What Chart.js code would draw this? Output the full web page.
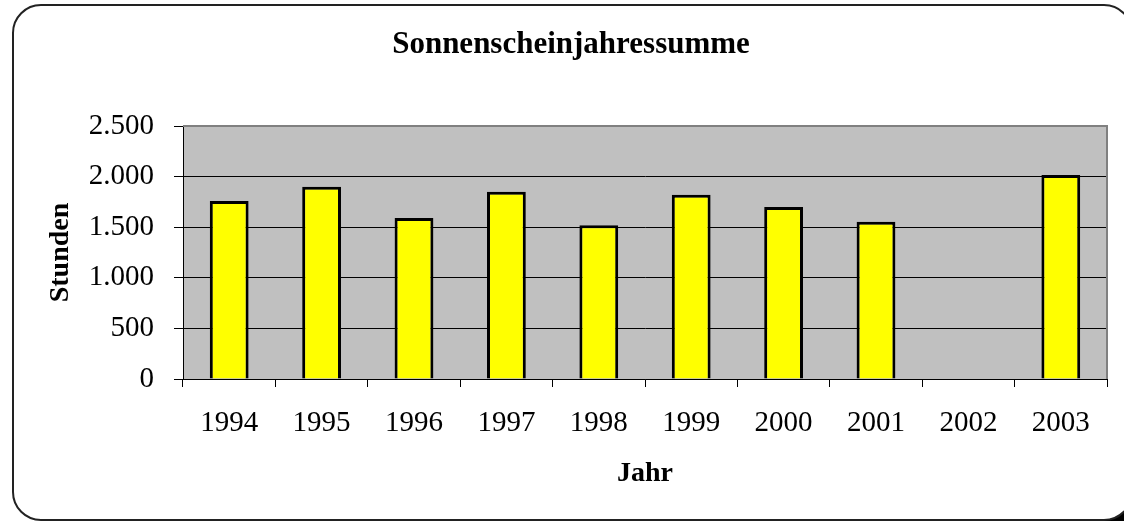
<!DOCTYPE html>
<html>
<head>
<meta charset="utf-8">
<script src="https://cdn.jsdelivr.net/npm/chart.js@4.4.0/dist/chart.umd.min.js"></script>
<style>
  html, body { margin: 0; padding: 0; background: #fff; }
  #wrap { width: 1124px; height: 521px; }
</style>
</head>
<body>
<div id="wrap"><canvas id="sunChart" width="1124" height="521"></canvas></div>
<script>
// Sonnenscheindauer pro Jahr (Stunden), 2002 ohne Wert
var years = ['1994', '1995', '1996', '1997', '1998', '1999', '2000', '2001', '2002', '2003'];
var hours = [1760, 1900, 1590, 1850, 1520, 1820, 1700, 1555, null, 2015];
var yTicks = [0, 500, 1000, 1500, 2000, 2500];
var chartTitle = 'Sonnenscheinjahressumme';

var serif = 'Liberation Serif, Times New Roman, serif';

function formatDE(v) {
    return String(v).replace(/\B(?=(\d{3})+(?!\d))/g, '.');
}

// rounded frame around the whole chart, grey plot background, title
var framePlugin = {
    id: 'frame',
    beforeDraw: function (chart) {
        var c = chart.ctx;
        var a = chart.chartArea;
        c.save();
        c.fillStyle = '#fff';
        c.fillRect(0, 0, chart.width, chart.height);
        // dark corner bottom right
        c.fillStyle = '#000';
        c.fillRect(1090, 490, 34, 31);
        c.beginPath();
        c.roundRect(13, 5, 1119, 515, 28);
        c.fillStyle = '#fff';
        c.fill();
        c.lineWidth = 2;
        c.strokeStyle = '#222';
        c.stroke();
        c.fillStyle = '#c0c0c0';
        c.fillRect(a.left, a.top, a.right - a.left, a.bottom - a.top);
        c.restore();
    },
    afterDraw: function (chart) {
        var c = chart.ctx;
        var a = chart.chartArea;
        c.save();
        c.strokeStyle = '#808080';
        c.lineWidth = 2;
        c.beginPath();
        c.moveTo(a.left, a.top);
        c.lineTo(a.right, a.top);
        c.lineTo(a.right, a.bottom);
        c.stroke();
        c.fillStyle = '#000';
        c.font = 'bold 31px ' + serif;
        c.textAlign = 'center';
        c.textBaseline = 'alphabetic';
        c.fillText(chartTitle, 571, 53);
        c.restore();
    }
};

var ctx = document.getElementById('sunChart').getContext('2d');

var sunChart = new Chart(ctx, {
    type: 'bar',
    data: {
        labels: years,
        datasets: [{
            label: 'Stunden',
            data: hours,
            backgroundColor: '#ffff00',
            borderColor: '#000',
            borderWidth: 3,
            barPercentage: 0.42,
            categoryPercentage: 1
        }]
    },
    plugins: [framePlugin],
    options: {
        responsive: false,
        animation: false,
        layout: { padding: { left: 0, right: 17, top: 126, bottom: 0 } },
        plugins: {
            legend: { display: false },
            tooltip: { enabled: false },
            title: { display: false }
        },
        scales: {
            x: {
                grid: {
                    offset: true,
                    drawOnChartArea: false,
                    drawTicks: true,
                    tickLength: 8,
                    color: '#000',
                    tickColor: '#000'
                },
                border: { color: '#000', width: 1 },
                ticks: {
                    color: '#000',
                    padding: 19,
                    maxRotation: 0,
                    font: { family: serif, size: 29 }
                },
                title: {
                    display: true,
                    text: 'Jahr',
                    color: '#000',
                    font: { family: serif, size: 28, weight: 'bold' },
                    padding: { top: 0, bottom: 30 }
                },
                afterFit: function (scale) { scale.height = 142; }
            },
            y: {
                min: 0,
                max: 2500,
                afterBuildTicks: function (scale) {
                    scale.ticks = yTicks.map(function (v) { return { value: v }; });
                },
                grid: {
                    color: function (c) { return c.tick && c.tick.value === 2500 ? '#808080' : '#000'; },
                    tickColor: '#000',
                    lineWidth: 1,
                    tickLength: 9
                },
                border: { color: '#000', width: 1 },
                ticks: {
                    color: '#000',
                    padding: 20,
                    font: { family: serif, size: 29 },
                    callback: function (v) { return formatDE(v); }
                },
                title: {
                    display: true,
                    text: 'Stunden',
                    color: '#000',
                    font: { family: serif, size: 28, weight: 'bold' },
                    padding: { top: 44, bottom: 0 }
                },
                afterFit: function (scale) { scale.width = 183; }
            }
        }
    }
});
</script>
</body>
</html>
